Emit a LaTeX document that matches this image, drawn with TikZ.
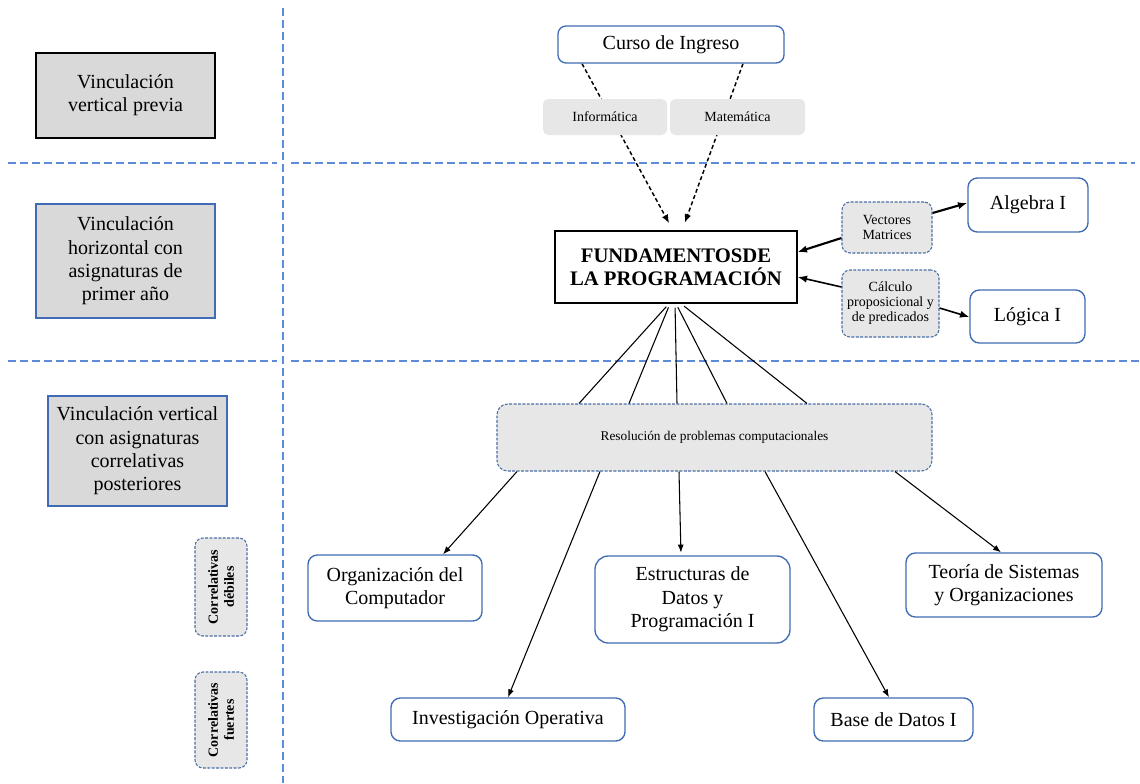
\documentclass[tikz,border=0pt]{standalone}
\usepackage{fontspec}
\setmainfont{Liberation Serif}
\usetikzlibrary{arrows.meta}
\pgfdeclarelayer{bg}
\pgfsetlayers{bg,main}
\definecolor{divblue}{HTML}{5B8BD9}
\definecolor{boxblue}{HTML}{3F6CB5}
\definecolor{dashblue}{HTML}{4A6FA5}
\definecolor{lgray}{HTML}{D9D9D9}
\definecolor{sgray}{HTML}{E7E7E7}
\newcommand{\PX}{0.75pt}
\begin{document}
\begin{tikzpicture}[x=0.75pt,y=-0.75pt,
 sz/.style 2 args={minimum width={#1*\PX},minimum height={#2*\PX}},
 bigtxt/.style={font=\fontsize{15}{17.5}\selectfont},
 smalltxt/.style={font=\fontsize{10.5}{11.2}\selectfont},
 catbox/.style={draw=boxblue, fill=lgray, line width=1pt, align=center, inner sep=0pt, bigtxt},
 subj/.style={draw=boxblue, fill=white, line width=1pt, rounded corners=7pt, align=center, inner sep=0pt, bigtxt},
 topic/.style={draw=dashblue, fill=sgray, dash pattern=on 2.2pt off 1.1pt, line width=0.8pt, rounded corners=6pt, align=center, inner sep=0pt, smalltxt},
 tag/.style={fill=sgray, rounded corners=4pt, align=center, inner sep=0pt, smalltxt},
 divider/.style={draw=divblue, line width=1.2pt, dash pattern=on 6pt off 3pt},
 arr/.style={-{Latex[length=6pt,width=4.5pt]}, line width=0.8pt},
 thickarr/.style={-{Latex[length=7pt,width=5.5pt]}, line width=1.6pt},
 dasharr/.style={-{Latex[length=6.5pt,width=5pt]}, line width=1.1pt, dash pattern=on 3pt off 2pt},
 link/.style={line width=0.8pt}
]
\useasboundingbox (0,0) rectangle (1140,783);
\begin{pgfonlayer}{bg}
\fill[white] (0,0) rectangle (1140,783);
\end{pgfonlayer}

% dividers
\draw[divider] (283,8) -- (283,783);
\draw[divider] (8,163) -- (277,163);
\draw[divider] (291,163) -- (1135,163);
\draw[divider] (8,361) -- (277,361);
\draw[divider] (291,361) -- (1140,361);

% left category boxes
\node[catbox, draw=black, sz={179}{85}] (c1) at (125.5,95.5) {Vinculación\\vertical previa};
\node[catbox, sz={179}{114}] (c2) at (125.5,261) {Vinculación\\horizontal con\\asignaturas de\\primer año};
\node[catbox, sz={179}{110}] (c3) at (137.5,451) {Vinculación vertical\\con asignaturas\\correlativas\\posteriores};
\node[topic, rotate=90, sz={98}{52}, font=\fontsize{10.5}{12}\selectfont\bfseries] (deb) at (221,587) {Correlativas\\débiles};
\node[topic, rotate=90, sz={96}{52}, font=\fontsize{10.5}{12}\selectfont\bfseries] (fue) at (221,720) {Correlativas\\fuertes};

% top
\node[subj, rounded corners=6pt, sz={226}{37}] (curso) at (671,44.5) {Curso de Ingreso};
\node[tag, sz={124}{36}] (inf) at (605,117) {Informática};
\node[tag, sz={135}{36}] (mat) at (737.5,117) {Matemática};
\node[draw=black, fill=white, line width=1pt, align=center, inner sep=0pt, sz={242}{72},
      font=\fontsize{15.5}{17.5}\selectfont\bfseries] (fund) at (676,267) {FUNDAMENTOSDE\\LA PROGRAMACIÓN};

% right
\node[topic, sz={90}{51}] (vec) at (887,227.5) {Vectores\\Matrices};
\node[topic, sz={97}{67}] (calc) at (890.5,303.5) {Cálculo\\proposicional y\\de predicados};
\node[subj, sz={120}{54}] (alg) at (1028,205) {Algebra I};
\node[subj, sz={115}{53}] (log) at (1027.5,316.5) {Lógica I};

% middle
\node[topic, rounded corners=8pt, sz={435}{67}, font=\fontsize{10}{11}\selectfont] (res) at (714.5,437.5) {Resolución de problemas computacionales};

% bottom
\node[subj, sz={174}{66}] (org) at (395,588) {Organización del\\Computador};
\node[subj, rounded corners=10pt, sz={195}{87}] (est) at (692.5,599.5) {Estructuras de\\Datos y\\Programación I};
\node[subj, sz={196}{64}] (teo) at (1004,585) {Teoría de Sistemas\\y Organizaciones};
\node[subj, sz={234}{43}] (inv) at (508,719.5) {Investigación Operativa};
\node[subj, sz={159}{43}] (base) at (893.5,719.5) {Base de Datos I};

% connectors
\begin{pgfonlayer}{bg}
\draw[dasharr, shorten >=6pt] (curso.south -| 582,0) -- (fund.north -| 673,0);
\draw[dasharr, shorten >=6pt] (curso.south -| 743,0) -- (fund.north -| 682,0);
\end{pgfonlayer}

\draw[thickarr] (vec.west |- 0,238) -- (fund.east |- 0,252);
\draw[thickarr] (vec.east |- 0,213) -- (alg.west |- 0,203);
\draw[thickarr, line width=1.2pt] (calc.west |- 0,287) -- (fund.east |- 0,277);
\draw[thickarr, line width=1.2pt] (calc.east |- 0,308) -- (log.west |- 0,317);

\draw[link, shorten <=3pt] (fund.south -| 669,0) -- (res.north -| 579,0);
\draw[link, shorten <=3pt] (fund.south -| 670,0) -- (res.north -| 629,0);
\draw[link, shorten <=3pt] (fund.south -| 675,0) -- (res.north -| 677,0);
\draw[link, shorten <=3pt] (fund.south -| 676,0) -- (res.north -| 727,0);
\draw[link, shorten <=3pt] (fund.south -| 681,0) -- (res.north -| 807,0);

\draw[arr] (res.south -| 517,0) -- (org.north -| 443,0);
\draw[arr] (res.south -| 600,0) -- (inv.north -| 508,0);
\draw[arr, shorten >=2pt] (res.south -| 679,0) -- (est.north -| 681,0);
\draw[arr] (res.south -| 765,0) -- (base.north -| 889,0);
\draw[arr] (res.south -| 895,0) -- (teo.north -| 1001,0);
\end{tikzpicture}
\end{document}
